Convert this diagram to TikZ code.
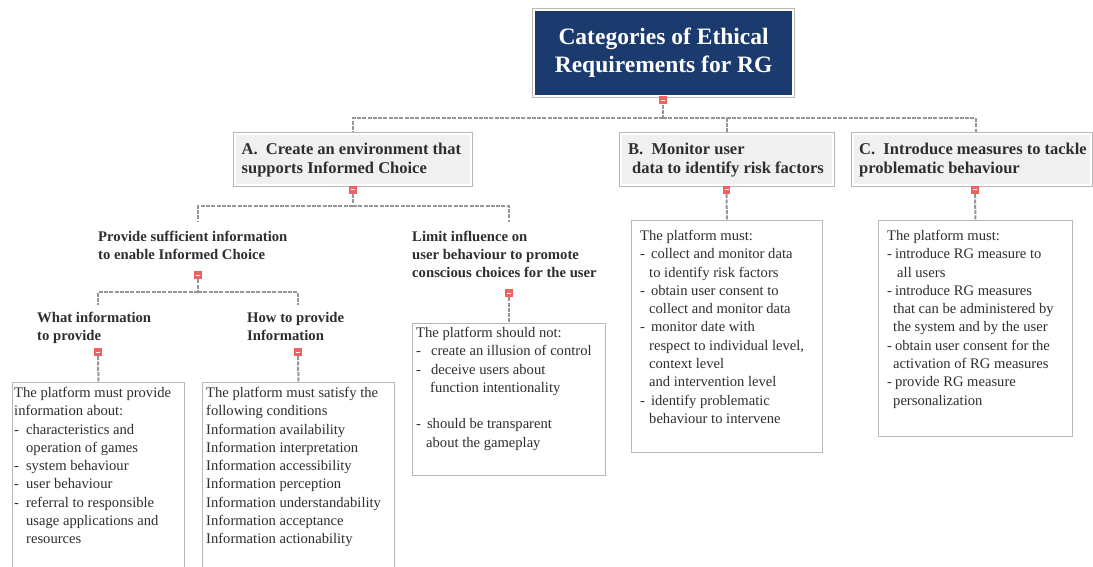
\documentclass[tikz,border=0pt]{standalone}
\usepackage{fontspec}
\setmainfont{Liberation Serif}
\usetikzlibrary{calc,backgrounds}
\definecolor{navy}{HTML}{1B3B6F}
\definecolor{boxfill}{HTML}{F0F0F0}
\definecolor{bordergray}{HTML}{B8B8B8}
\definecolor{conngray}{HTML}{969696}
\definecolor{minred}{HTML}{F06262}
\definecolor{txt}{HTML}{2E2E2E}
\newcommand\ttlfont{\fontsize{23.5}{28}\selectfont\bfseries}
\newcommand\catfont{\fontsize{16.5}{19}\selectfont\bfseries}
\newcommand\hdrfont{\fontsize{14.7}{17.8}\selectfont\bfseries}
\newcommand\cntfont{\fontsize{14.6}{18.3}\selectfont}
\begin{document}
\begin{tikzpicture}[x=1pt,y=-1pt,
  titlebox/.style={draw=bordergray, line width=1.2pt, fill=white, inner sep=0, anchor=north west,
    path picture={\fill[navy] ([shift={(2.5pt,-2.5pt)}]path picture bounding box.north west) rectangle ([shift={(-2.5pt,2.5pt)}]path picture bounding box.south east);}},
  catbox/.style={draw=bordergray, line width=1pt, fill=white, inner sep=0, anchor=north west,
    path picture={\fill[boxfill] ([shift={(2.5pt,-2.5pt)}]path picture bounding box.north west) rectangle ([shift={(-2.5pt,2.5pt)}]path picture bounding box.south east);}},
  cbox/.style={draw=bordergray, line width=0.9pt, fill=white, inner sep=0, anchor=north west},
  txtnode/.style={anchor=north west, inner sep=0, align=left, text=txt},
  minus/.style={rectangle, minimum width=7.5pt, minimum height=8pt, inner sep=0, fill=minred, draw=none,
    path picture={\draw[white, line width=1pt] ([xshift=-2pt]path picture bounding box.center) -- ([xshift=2pt]path picture bounding box.center);}},
  conn/.style={draw=conngray, line width=2pt, dash pattern=on 4pt off 1.3pt}
]
\path[use as bounding box, clip] (0,0) rectangle (1093,567);

% title
\node[titlebox, minimum width=262pt, minimum height=89pt, align=center, text=white, font=\ttlfont] (title) at (532,8) {Categories of Ethical\\Requirements for RG};

% category boxes
\node[catbox, minimum width=239pt, minimum height=54pt] (A) at (233,132) {};
\node[catbox, minimum width=215pt, minimum height=54pt] (B) at (619,132) {};
\node[catbox, minimum width=241pt, minimum height=54pt] (C) at (851,132) {};
\node[txtnode, font=\catfont] (tA) at (241.5,143) {A.\hspace{0.5em}Create an environment that\\supports Informed Choice};
\node[txtnode, font=\catfont] (tB) at (628,143) {B.\hspace{0.5em}Monitor user\\\hspace{4pt}data to identify risk factors};
\node[txtnode, font=\catfont] (tC) at (859,143) {C.\hspace{0.5em}Introduce measures to tackle\\problematic behaviour};

% sub headers
\node[txtnode, font=\hdrfont] (hP) at (98,231) {Provide sufficient information\\to enable Informed Choice};
\node[txtnode, font=\hdrfont] (hL) at (412,231) {Limit influence on\\user behaviour to promote\\conscious choices for the user};
\node[txtnode, font=\hdrfont] (hW) at (37,312) {What information\\to provide};
\node[txtnode, font=\hdrfont] (hH) at (247,312) {How to provide\\Information};

% content boxes
\node[cbox, minimum width=172pt, minimum height=200pt] (box1) at (12,382) {};
\node[cbox, minimum width=192pt, minimum height=200pt] (box2) at (202,382) {};
\node[cbox, minimum width=193pt, minimum height=152pt] (boxL) at (412,323) {};
\node[cbox, minimum width=191pt, minimum height=232pt] (boxB) at (631,220) {};
\node[cbox, minimum width=194pt, minimum height=216pt] (boxC) at (878,220) {};

\node[txtnode, font=\cntfont] (t1) at (14,387) {The platform must provide\\information about:\\-\hspace{7pt}characteristics and\\\hspace{12pt}operation of games\\-\hspace{7pt}system behaviour\\-\hspace{7pt}user behaviour\\-\hspace{7pt}referral to responsible\\\hspace{12pt}usage applications and\\\hspace{12pt}resources};
\node[txtnode, font=\cntfont] (t2) at (206,387) {The platform must satisfy the\\following conditions\\Information availability\\Information interpretation\\Information accessibility\\Information perception\\Information understandability\\Information acceptance\\Information actionability};
\node[txtnode, font=\cntfont] (tL) at (416,327) {The platform should not:\\-\hspace{10pt}create an illusion of control\\-\hspace{10pt}deceive users about\\\hspace{14pt}function intentionality\\[18.3pt]-\hspace{6pt}should be transparent\\\hspace{10pt}about the gameplay};
\node[txtnode, font=\cntfont] (tBc) at (640,230) {The platform must:\\-\hspace{6pt}collect and monitor data\\\hspace{9pt}to identify risk factors\\-\hspace{6pt}obtain user consent to\\\hspace{9pt}collect and monitor data\\-\hspace{6pt}monitor date with\\\hspace{9pt}respect to individual level,\\\hspace{9pt}context level\\\hspace{9pt}and intervention level\\-\hspace{6pt}identify problematic\\\hspace{9pt}behaviour to intervene};
\node[txtnode, font=\cntfont] (tCc) at (887,230) {The platform must:\\-\hspace{3pt}introduce RG measure to\\\hspace{10pt}all users\\-\hspace{3pt}introduce RG measures\\\hspace{6pt}that can be administered by\\\hspace{6pt}the system and by the user\\-\hspace{3pt}obtain user consent for the\\\hspace{6pt}activation of RG measures\\-\hspace{3pt}provide RG measure\\\hspace{6pt}personalization};

% markers
\node[minus] (m0) at (663,100.5) {};
\node[minus] (mA) at (353,190) {};
\node[minus] (mB) at (726.5,190) {};
\node[minus] (mC) at (975,190) {};
\node[minus] (mP) at (198,275) {};
\node[minus] (mL) at (509,293) {};
\node[minus] (mW) at (98,352) {};
\node[minus] (mH) at (298,352) {};

% junctions and free ends
\coordinate (j0) at (663,118);
\coordinate (jA) at (353,206);
\coordinate (jP) at (198,292);
\coordinate (eP) at (198,222);
\coordinate (eL) at (509,222);
\coordinate (eW) at (98,305);
\coordinate (eH) at (298,305);

\begin{pgfonlayer}{background}
\fill[white] (0,0) rectangle (1093,567);
\draw[conn] (m0.south) -- (j0);
\draw[conn] (j0) -| (A.north);
\draw[conn] (j0) -| (B.north);
\draw[conn] (j0) -| ([xshift=3.5pt]C.north);
\draw[conn] (mA.south) -- (jA);
\draw[conn] (jA) -| (eP);
\draw[conn] (jA) -| (eL);
\draw[conn] (mP.south) -- (jP);
\draw[conn] (jP) -| (eW);
\draw[conn] (jP) -| (eH);
\draw[conn] (mW.south) -- (box1.north);
\draw[conn] (mH.south) -- (box2.north);
\draw[conn] (mL.south) -- (mL.south |- boxL.north);
\draw[conn] (mB.south) -- (boxB.north);
\draw[conn] (mC.south) -- (boxC.north);
\end{pgfonlayer}
\end{tikzpicture}
\end{document}
